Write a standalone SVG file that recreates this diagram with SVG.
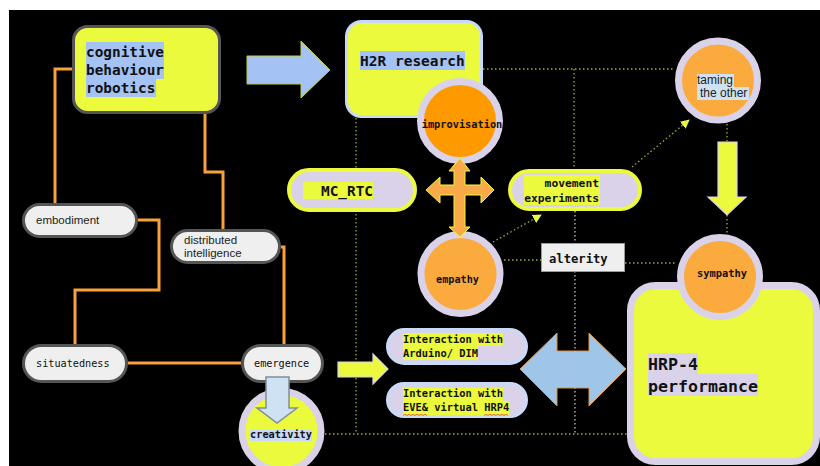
<svg xmlns="http://www.w3.org/2000/svg" width="820" height="466" viewBox="0 0 820 466">
<defs>
<style>
.mono{font-family:"DejaVu Sans Mono","Liberation Mono",monospace;fill:#111}
.b{font-weight:bold}
.sans{font-family:"Liberation Sans",Arial,sans-serif;fill:#222}
.orange{fill:none;stroke:#f7a23b;stroke-width:3}
.dot{fill:none;stroke:#a8a82a;stroke-width:1.3;stroke-dasharray:1.5 2.5}
.dotg{fill:none;stroke:#b4c2d6;stroke-width:1.3;stroke-dasharray:1.5 2.5}
.pillg{fill:#efefef;stroke:#555;stroke-width:3}
.ring{stroke:#d9d2e9;stroke-width:7}
.pillL{fill:#d9d2e9;stroke:#ebfa3c;stroke-width:4}
.pillB{fill:#d9d2e9;stroke:#c9daf8;stroke-width:3}
</style>
<marker id="ah" viewBox="0 0 10 10" refX="9" refY="5" markerWidth="9" markerHeight="9" markerUnits="userSpaceOnUse" orient="auto">
<path d="M0,0 L10,5 L0,10 z" fill="#ebfa3c"/>
</marker>
</defs>
<rect x="0" y="0" width="820" height="466" fill="#fff"/>
<rect x="9" y="10" width="811" height="456" fill="#000"/>

<g id="bigarrows">
<polygon points="247,56 301,56 301,41 330,70 301,98 301,84 247,84" fill="#a4c2f4" stroke="#bfc93a" stroke-width="1"/>
<polygon points="520,369 557,333 557,351 589,351 589,333 626,369 589,406 589,388 557,388 557,406" fill="#9fc5e8" stroke="#e69138" stroke-width="1"/>
<polygon points="718,142 737,142 737,197 746,197 727,215 708,197 718,197" fill="#ebfa3c" stroke="#d9d2e9" stroke-width="1.2"/>
</g>

<g id="connectors">
<path class="orange" d="M72 69 H55 V203"/>
<path class="orange" d="M205 114 V172 H223 V229"/>
<path class="orange" d="M138 220 H159 V290 H75 V344"/>
<path class="orange" d="M281 247 H284 V344"/>
<path class="orange" d="M128 363 H241"/>
<path class="dot" d="M483 69 H675"/>
<path class="dot" d="M574 69 V169"/>
<path class="dot" d="M356 118 V434"/>
<path class="dot" d="M325 434 H627"/>
<path class="dot" d="M504 260 H541"/>
<path class="dot" d="M625 263 H677"/>
<path class="dot" d="M727 124 V142 M727 215 V234"/>
<path class="dot" d="M493 242 L541 215" marker-end="url(#ah)"/>
<path class="dot" d="M632 167 L689 120" marker-end="url(#ah)"/>
<path class="dotg" d="M575 211 V433"/>
</g>

<g id="cognitive">
<rect x="73.5" y="26.5" width="146" height="86" rx="14" fill="#ebfa3c" stroke="#555" stroke-width="3"/>
<rect x="86" y="42" width="78" height="37" fill="#a4c2f4"/>
<rect x="86" y="79" width="70" height="18" fill="#a4c2f4"/>
<text class="mono b" font-size="14.4" x="86"><tspan x="86" y="57">cognitive</tspan><tspan x="86" y="75">behaviour</tspan><tspan x="86" y="93">robotics</tspan></text>
</g>

<g id="h2r">
<rect x="346.5" y="21.5" width="135" height="95" rx="15" fill="#ebfa3c" stroke="#c9daf8" stroke-width="3"/>
<rect x="360" y="51" width="105" height="19" fill="#a4c2f4"/>
<text class="mono b" font-size="14.5" x="360" y="66">H2R research</text>
</g>

<g id="improvisation">
<circle class="ring" cx="460" cy="121" r="39.5" fill="#ff9900"/>
<text class="mono b" font-size="10.3" x="462" y="128" text-anchor="middle">improvisation</text>
</g>

<g id="taming">
<circle class="ring" cx="718" cy="80.5" r="39.5" fill="#fbaa3e"/>
<rect x="697" y="74" width="37" height="13" fill="#cfe2f3"/>
<rect x="697" y="87" width="52" height="13" fill="#cfe2f3"/>
<text class="sans" font-size="12"><tspan x="697" y="84">taming</tspan><tspan x="700" y="97">the other</tspan></text>
</g>

<g id="mcrtc">
<rect class="pillL" x="289" y="170" width="126" height="40" rx="20"/>
<rect x="303" y="182" width="70" height="17" fill="#ebfa3c"/>
<text class="mono b" font-size="14.4" x="321" y="196">MC_RTC</text>
</g>

<g id="movement">
<rect class="pillL" x="510" y="171" width="130" height="38" rx="19"/>
<rect x="524" y="175" width="76" height="30" fill="#ebfa3c"/>
<text class="mono b" font-size="11.3" text-anchor="end"><tspan x="599" y="187">movement</tspan><tspan x="599" y="202">experiments</tspan></text>
</g>

<g id="empathy">
<circle class="ring" cx="460.5" cy="274" r="39.5" fill="#fbaa3e"/>
<text class="mono b" font-size="10.2" x="457.5" y="283" text-anchor="middle">empathy</text>
</g>

<g id="fourway">
<polygon points="460,158 470,171 465,171 465,185 481,185 481,177 494,190 481,203 481,195 465,195 465,227 470,227 460,237 449,227 454,227 454,195 440,195 440,203 426,190 440,177 440,185 454,185 454,171 449,171" fill="#f9aa48" stroke="#ebfa3c" stroke-width="1"/>
</g>

<g id="alterity">
<rect x="541.5" y="243.5" width="83" height="28" fill="#efefef" stroke="#999" stroke-width="1"/>
<text class="mono b" font-size="12.2" x="549" y="263">alterity</text>
</g>

<g id="hrp4">
<rect x="630.5" y="285.5" width="186" height="176" rx="25" fill="#ebfa3c" stroke="#d9d2e9" stroke-width="7"/>
<rect x="648" y="353" width="50" height="21" fill="#d9d2e9"/>
<rect x="648" y="374" width="110" height="22" fill="#d9d2e9"/>
<text class="mono b" font-size="16.6"><tspan x="648" y="370">HRP-4</tspan><tspan x="648" y="392">performance</tspan></text>
</g>

<g id="sympathy">
<circle class="ring" cx="720" cy="277" r="39.5" fill="#fbaa3e"/>
<text class="mono b" font-size="10.4" x="722" y="277" text-anchor="middle">sympathy</text>
</g>

<g id="interaction1">
<rect class="pillB" x="387.5" y="329.5" width="139" height="34" rx="17"/>
<rect x="403" y="333" width="100" height="13" fill="#ebfa3c"/>
<rect x="403" y="346" width="75" height="14" fill="#ebfa3c"/>
<text class="mono b" font-size="10.4"><tspan x="403" y="343">Interaction with</tspan><tspan x="403" y="357">Arduino/ DIM</tspan></text>
</g>

<g id="interaction2">
<rect class="pillB" x="387.5" y="383.5" width="139" height="33" rx="16.5"/>
<rect x="403" y="388" width="100" height="13" fill="#ebfa3c"/>
<rect x="403" y="401" width="106" height="14" fill="#ebfa3c"/>
<text class="mono b" font-size="10.4"><tspan x="403" y="397">Interaction with</tspan><tspan x="403" y="411">EVE&amp; virtual HRP4</tspan></text>
<path d="M403 415.5 l2 -1.2 l2 1.2 l2 -1.2 l2 1.2 l2 -1.2 l2 1.2 l2 -1.2 l2 1.2 l2 -1.2 l2 1.2 l2 -1.2 l2 1.2 M484 415.5 l2 -1.2 l2 1.2 l2 -1.2 l2 1.2 l2 -1.2 l2 1.2 l2 -1.2 l2 1.2 l2 -1.2 l2 1.2 l2 -1.2 l2 1.2" fill="none" stroke="#e0443a" stroke-width="0.8"/>
</g>

<g id="yellowarrow">
<polygon points="338,362 373,362 373,354 388,369 373,384 373,377 338,377" fill="#ebfa3c" stroke="#d9d2e9" stroke-width="1.2"/>
</g>

<g id="embodiment">
<rect class="pillg" x="23.5" y="204.5" width="113" height="32" rx="16"/>
<text class="sans" font-size="11.5" x="36" y="224">embodiment</text>
</g>

<g id="distributed">
<rect class="pillg" x="171.5" y="230.5" width="108" height="32" rx="16"/>
<text class="sans" font-size="11.5"><tspan x="184" y="244">distributed</tspan><tspan x="184" y="257">intelligence</tspan></text>
</g>

<g id="situatedness">
<rect class="pillg" x="23.5" y="345.5" width="103" height="36" rx="18"/>
<text class="mono" font-size="10.2" x="36" y="367">situatedness</text>
</g>

<g id="creativity">
<circle class="ring" cx="281.5" cy="431" r="39.5" fill="#ebfa3c"/>
<rect x="250" y="430" width="62" height="11" fill="#c9daf8"/>
<text class="mono b" font-size="10.3" x="250" y="438">creativity</text>
</g>

<g id="emergence">
<rect class="pillg" x="242.5" y="345.5" width="80" height="36" rx="18"/>
<text class="mono" font-size="10.2" x="254" y="367">emergence</text>
</g>

<g id="downarrow">
<polygon points="266,377 289,377 289,408 297,408 277,423 257,408 266,408" fill="#cfe2f3" stroke="#7f8f99" stroke-width="1.5"/>
</g>
</svg>
